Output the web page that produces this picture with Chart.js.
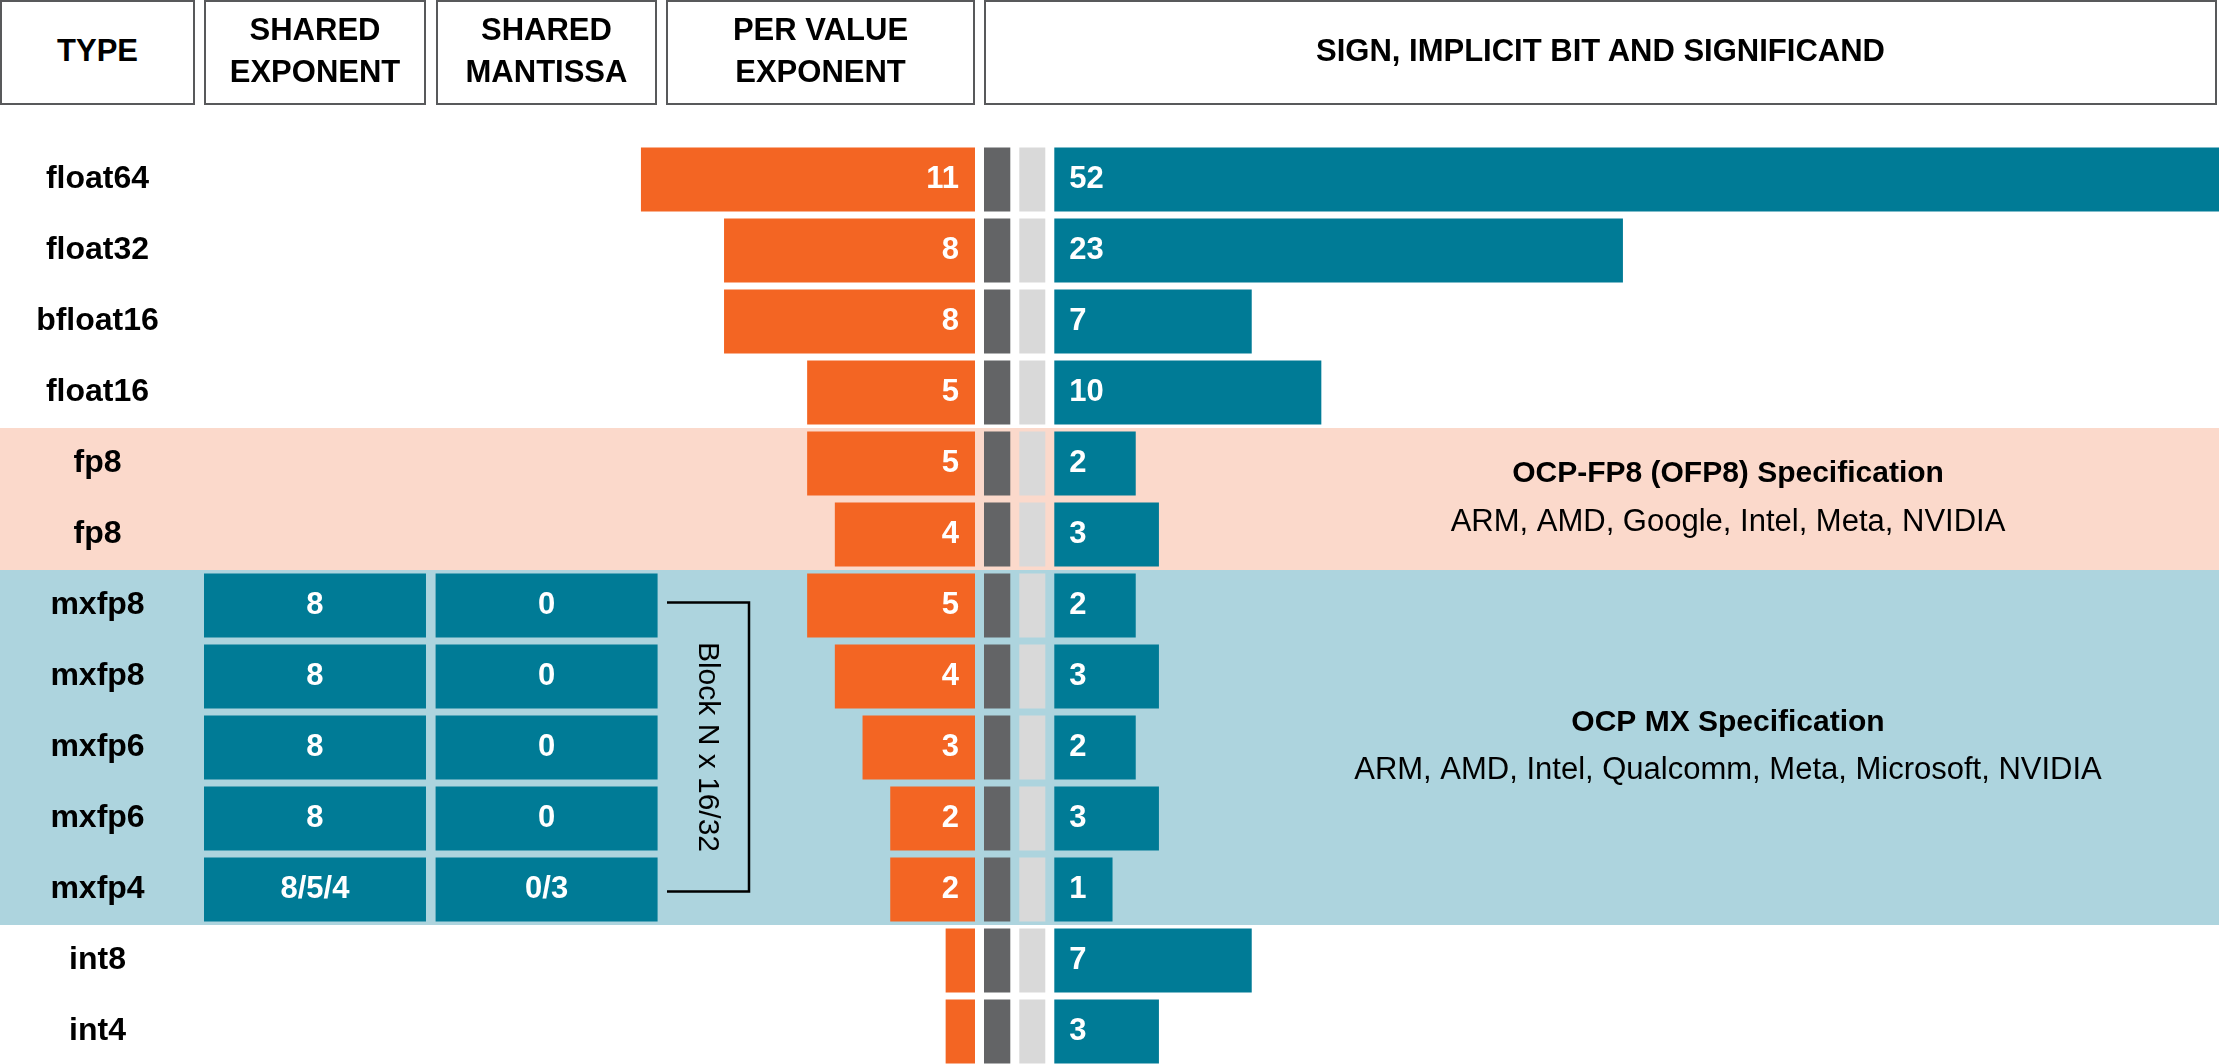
<!DOCTYPE html>
<html>
<head>
<meta charset="utf-8">
<script src="https://cdn.jsdelivr.net/npm/chart.js@4.4.1/dist/chart.umd.min.js"></script>
<style>
html,body{margin:0;padding:0;overflow:hidden;background:#fff;}
#wrap{position:relative;width:2219px;height:1067px;}
#chartBox{position:absolute;left:0;top:0;width:2219px;height:1067px;}
.hdr{position:absolute;box-sizing:border-box;border:2px solid #58595b;background:#fff;display:flex;align-items:center;justify-content:center;text-align:center;white-space:pre-line;font-family:"Liberation Sans",Arial,sans-serif;font-weight:bold;font-size:31px;line-height:42px;color:#000;padding-bottom:4px;}
</style>
</head>
<body>
<div id="wrap"><div id="chartBox"><canvas id="c"></canvas></div></div>
<script>
// ---------------- data ----------------
const types = ['float64','float32','bfloat16','float16','fp8','fp8','mxfp8','mxfp8','mxfp6','mxfp6','mxfp4','int8','int4'];
const exponentBits    = [11, 8, 8, 5, 5, 4, 5, 4, 3, 2, 2, 0, 0];
const signBits        = [1, 1, 1, 1, 1, 1, 1, 1, 1, 1, 1, 1, 1];
const implicitBits    = [1, 1, 1, 1, 1, 1, 1, 1, 1, 1, 1, 1, 1];
const significandBits = [52, 23, 7, 10, 2, 3, 2, 3, 2, 3, 1, 7, 3];
const sharedExponent  = [null, null, null, null, null, null, '8', '8', '8', '8', '8/5/4', null, null];
const sharedMantissa  = [null, null, null, null, null, null, '0', '0', '0', '0', '0/3', null, null];
const headerLabels = ['TYPE', 'SHARED\nEXPONENT', 'SHARED\nMANTISSA', 'PER VALUE\nEXPONENT', 'SIGN, IMPLICIT BIT AND SIGNIFICAND'];
const specTitles   = ['OCP-FP8 (OFP8) Specification', 'OCP MX Specification'];
const specMembers  = ['ARM, AMD, Google, Intel, Meta, NVIDIA', 'ARM, AMD, Intel, Qualcomm, Meta, Microsoft, NVIDIA'];
const specFirstRow = [4, 6];
const specLastRow  = [5, 10];
const blockLabel = 'Block N x 16/32';

// ---------------- layout / style ----------------
const W = 2219;
const FONT = '"Liberation Sans", Arial, sans-serif';
const COLS = [[0, 195], [204, 426], [436, 657], [666, 975], [984, 2217]];
const AREA_L = 195, AREA_R = W;
const EXP_END = 975, EXP_PX = 27.7, EXP_BASE = -1.06;
const SIGN_X = 984, SIGN_PX = 26.3;
const IMP_X = 1019.3, IMP_PX = 26;
const SIG_X = 1054.3, SIG_PX = 23.2, SIG_BASE = -1.51;
const TBL_X = 204, TBL_PX = 231.6, CELL = 0.9585;
const ORANGE = '#F36523', TEAL = '#007B96', DARK = '#636466', LIGHT = '#D9D9D9';
const BAND_COLORS = ['#FBD9CB', '#ADD4DE'];
const SPEC_X = 1728;

// header boxes (HTML text)
const wrap = document.getElementById('wrap');
headerLabels.forEach((t, i) => {
  const d = document.createElement('div');
  d.className = 'hdr';
  d.style.left = COLS[i][0] + 'px';
  d.style.width = (COLS[i][1] - COLS[i][0]) + 'px';
  d.style.top = '0px';
  d.style.height = '105px';
  d.textContent = t;
  wrap.appendChild(d);
});

// axis pinned so that value v0 sits at pixel p0 with px pixels per unit
function pin(v0, p0, px, reverse) {
  const span = (AREA_R - AREA_L) / px;
  const min = reverse ? v0 - (AREA_R - p0) / px : v0 - (p0 - AREA_L) / px;
  return { type: 'linear', axis: 'x', display: false, reverse: !!reverse, min: min, max: min + span };
}

// centre the row labels in the TYPE column
const mctx = document.createElement('canvas').getContext('2d');
mctx.font = 'bold 32px ' + FONT;
const widest = Math.max(...types.map(t => mctx.measureText(t).width));
const TYPE_CENTER = (COLS[0][0] + COLS[0][1]) / 2;
const tickPad = AREA_L - TYPE_CENTER - widest / 2;

const decor = {
  id: 'decor',
  beforeDraw(chart) {
    const { ctx, scales: { y } } = chart;
    ctx.save();
    ctx.fillStyle = '#fff';
    ctx.fillRect(0, 0, chart.width, chart.height);
    const half = (y.getPixelForValue(1) - y.getPixelForValue(0)) / 2;
    specFirstRow.forEach((r0, k) => {
      const top = y.getPixelForValue(r0) - half;
      const bot = y.getPixelForValue(specLastRow[k]) + half;
      ctx.fillStyle = BAND_COLORS[k];
      ctx.fillRect(0, top, chart.width, bot - top);
    });
    ctx.restore();
  },
  afterDatasetsDraw(chart) {
    const { ctx, scales: { y } } = chart;
    ctx.save();
    // value labels
    ctx.fillStyle = '#fff';
    ctx.font = 'bold 31px ' + FONT;
    ctx.textBaseline = 'middle';
    chart.data.datasets.forEach((ds, di) => {
      if (!ds.valueText) return;
      const meta = chart.getDatasetMeta(di);
      meta.data.forEach((el, i) => {
        const t = ds.valueText[i];
        if (t === null || t === undefined || t === '') return;
        const p = el.getProps(['x', 'y', 'base'], true);
        const lo = Math.min(p.x, p.base), hi = Math.max(p.x, p.base);
        if (ds.valueAlign === 'end') { ctx.textAlign = 'right'; ctx.fillText(t, hi - 16, p.y); }
        else if (ds.valueAlign === 'start') { ctx.textAlign = 'left'; ctx.fillText(t, lo + 15, p.y); }
        else { ctx.textAlign = 'center'; ctx.fillText(t, (lo + hi) / 2, p.y); }
      });
    });
    // specification notes
    const half = (y.getPixelForValue(1) - y.getPixelForValue(0)) / 2;
    ctx.fillStyle = '#000';
    ctx.textAlign = 'center';
    specFirstRow.forEach((r0, k) => {
      const mid = (y.getPixelForValue(r0) - half + y.getPixelForValue(specLastRow[k]) + half) / 2;
      ctx.font = 'bold 30px ' + FONT;
      ctx.fillText(specTitles[k], SPEC_X, mid - 25);
      ctx.font = '31px ' + FONT;
      ctx.fillText(specMembers[k], SPEC_X, mid + 23);
    });
    // block bracket
    const yTop = y.getPixelForValue(specFirstRow[1]) - 3;
    const yBot = y.getPixelForValue(specLastRow[1]) + 2;
    ctx.strokeStyle = '#000';
    ctx.lineWidth = 2.5;
    ctx.beginPath();
    ctx.moveTo(667, yTop); ctx.lineTo(749, yTop); ctx.lineTo(749, yBot); ctx.lineTo(667, yBot);
    ctx.stroke();
    ctx.translate(707, (yTop + yBot) / 2);
    ctx.rotate(Math.PI / 2);
    ctx.font = '30px ' + FONT;
    ctx.fillText(blockLabel, 0, 0);
    ctx.restore();
  }
};

const common = { grouped: false, barPercentage: 0.9, categoryPercentage: 1, borderWidth: 0 };

new Chart(document.getElementById('c'), {
  type: 'bar',
  data: {
    labels: types,
    datasets: [
      Object.assign({ label: 'Shared exponent', xAxisID: 'xTbl', backgroundColor: TEAL,
        data: sharedExponent.map(v => v === null ? null : [0, CELL]),
        valueText: sharedExponent, valueAlign: 'center' }, common),
      Object.assign({ label: 'Shared mantissa', xAxisID: 'xTbl', backgroundColor: TEAL,
        data: sharedMantissa.map(v => v === null ? null : [1, 1 + CELL]),
        valueText: sharedMantissa, valueAlign: 'center' }, common),
      Object.assign({ label: 'Per value exponent', xAxisID: 'xExp', backgroundColor: ORANGE,
        base: EXP_BASE, data: exponentBits,
        valueText: exponentBits.map(b => b > 0 ? String(b) : null), valueAlign: 'end' }, common),
      Object.assign({ label: 'Sign', xAxisID: 'xSign', backgroundColor: DARK, data: signBits }, common),
      Object.assign({ label: 'Implicit bit', xAxisID: 'xImp', backgroundColor: LIGHT, data: implicitBits }, common),
      Object.assign({ label: 'Significand', xAxisID: 'xSig', backgroundColor: TEAL,
        base: SIG_BASE, data: significandBits,
        valueText: significandBits.map(String), valueAlign: 'start' }, common)
    ]
  },
  options: {
    indexAxis: 'y',
    responsive: true,
    maintainAspectRatio: false,
    animation: false,
    layout: { padding: { top: 144, left: 0, right: 0, bottom: 0 } },
    plugins: { legend: { display: false }, tooltip: { enabled: false } },
    scales: {
      y: {
        type: 'category', offset: true,
        grid: { display: false, drawTicks: false }, border: { display: false },
        ticks: { color: '#000', font: { family: FONT, size: 32, weight: 'bold' }, crossAlign: 'center', padding: tickPad, autoSkip: false },
        afterFit(s) { s.width = AREA_L; s.paddingTop = 0; s.paddingBottom = 0; }
      },
      xExp: pin(EXP_BASE, EXP_END, EXP_PX, true),
      xSign: pin(0, SIGN_X, SIGN_PX, false),
      xImp: pin(0, IMP_X, IMP_PX, false),
      xSig: pin(SIG_BASE, SIG_X, SIG_PX, false),
      xTbl: pin(0, TBL_X, TBL_PX, false)
    }
  },
  plugins: [decor]
});
</script>
</body>
</html>
